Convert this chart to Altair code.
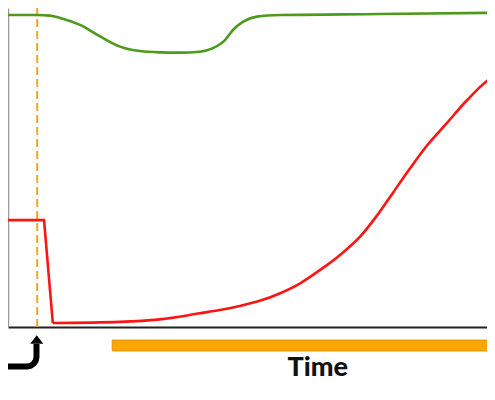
import altair as alt
import pandas as pd

# Time axis 0..100, value axis 0..100
green_t = [0, 6.0, 8.6, 10.7, 14.8, 18.9, 23.0, 27.1, 31.2, 35.3, 39.4, 42.1, 44.6, 46.2, 48.3, 51.1, 55.9, 76.4, 100]
green_v = [97.8, 97.8, 97.6, 96.9, 94.7, 91.1, 87.9, 86.5, 86.1, 86.0, 86.3, 87.4, 90.0, 93.1, 95.7, 97.3, 97.8, 98.1, 98.5]

red_drop_t = [0, 7.4, 9.2]
red_drop_v = [33.5, 33.5, 1.25]

red_rise_t = [9.2, 23.0, 31.2, 39.4, 43.5, 47.6, 51.7, 55.9, 60.0, 64.1, 68.2, 72.3, 75.6, 79.1, 82.5, 86.0, 90.1, 94.2, 99.6, 100.5]
red_rise_v = [1.25, 1.6, 2.4, 4.3, 5.3, 6.6, 8.2, 10.6, 13.7, 17.9, 22.6, 28.3, 34.6, 42.2, 49.6, 56.8, 63.9, 71.0, 78.5, 79.2]

event_t = [6.0]
event_v = [0, 100]

bar_t = [21.4, 101]
bar_v = [-4.1, -7.5]

label_text = ["Time"]
label_t = [63.6]
label_v = [-12.9]

arrow_t = [0, 3.90, 4.64, 5.28, 5.71, 5.85, 5.85]
arrow_v = [-12.4, -12.4, -12.2, -11.5, -10.5, -9.4, -5.3]
arrowhead_t = [5.9]
arrowhead_v = [-3.9]

# the visible window shows time 0 .. 98.4
xs = alt.Scale(domain=[0, 98.36], nice=False, zero=False)
ys = alt.Scale(domain=[0, 100], nice=False, zero=False)

def X(f):
    return alt.X(f, type="quantitative", scale=xs, title=None)

def Y(f):
    return alt.Y(f, type="quantitative", scale=ys, title=None)

green = alt.Chart(pd.DataFrame({"t": green_t, "v": green_v})).mark_line(
    color="#4E9A1C", strokeWidth=2.6, interpolate="monotone", clip=True
).encode(x=X("t"), y=Y("v"))

red1 = alt.Chart(pd.DataFrame({"t": red_drop_t, "v": red_drop_v})).mark_line(
    color="#FF1414", strokeWidth=2.6, interpolate="linear", strokeJoin="miter"
).encode(x=X("t"), y=Y("v"))

red2 = alt.Chart(pd.DataFrame({"t": red_rise_t, "v": red_rise_v})).mark_line(
    color="#FF1414", strokeWidth=2.6, interpolate="monotone", clip=True
).encode(x=X("t"), y=Y("v"))

event = alt.Chart(pd.DataFrame({"t": event_t, "v0": [event_v[0]], "v1": [event_v[1]]})).mark_rule(
    color="#F7A520", strokeWidth=2, strokeDash=[8, 4]
).encode(x=X("t"), y=Y("v0"), y2="v1")

bar = alt.Chart(pd.DataFrame({"t1": [bar_t[0]], "t2": [bar_t[1]], "v1": [bar_v[0]], "v2": [bar_v[1]]})).mark_rect(
    color="#FFA500", stroke="#E89400", strokeWidth=1
).encode(x=X("t1"), x2="t2", y=Y("v1"), y2="v2")

label = alt.Chart(pd.DataFrame({"t": label_t, "v": label_v, "txt": label_text})).mark_text(
    font="Lato", fontSize=27, fontWeight=900, color="#111111", align="center", baseline="middle"
).encode(x=X("t"), y=Y("v"), text="txt:N")

arrow = alt.Chart(pd.DataFrame({"t": arrow_t, "v": arrow_v, "i": list(range(len(arrow_t)))})).mark_line(
    color="#000000", strokeWidth=6, strokeCap="butt", strokeJoin="round", interpolate="linear"
).encode(x=X("t"), y=Y("v"), order="i:Q")

head = alt.Chart(pd.DataFrame({"t": arrowhead_t, "v": arrowhead_v})).mark_point(
    shape="M0,-0.65L1,0.65L-1,0.65Z", filled=True, size=169, color="#000000", opacity=1
).encode(x=X("t"), y=Y("v"))

chart = alt.layer(event, green, red1, red2, bar, label, arrow, head).properties(
    width=479, height=319,
    autosize=alt.AutoSizeParams(type="none"),
    padding={"left": 0, "top": 0, "right": 0, "bottom": 60},
).configure_view(stroke=None).configure_axisX(
    domainColor="#222222", domainWidth=2, labels=False, ticks=False, grid=False
).configure_axisY(
    domainColor="#9A9A9A", domainWidth=1.5, labels=False, ticks=False, grid=False
)

chart.save("out.html", embed_options={"renderer": "svg", "actions": False})
